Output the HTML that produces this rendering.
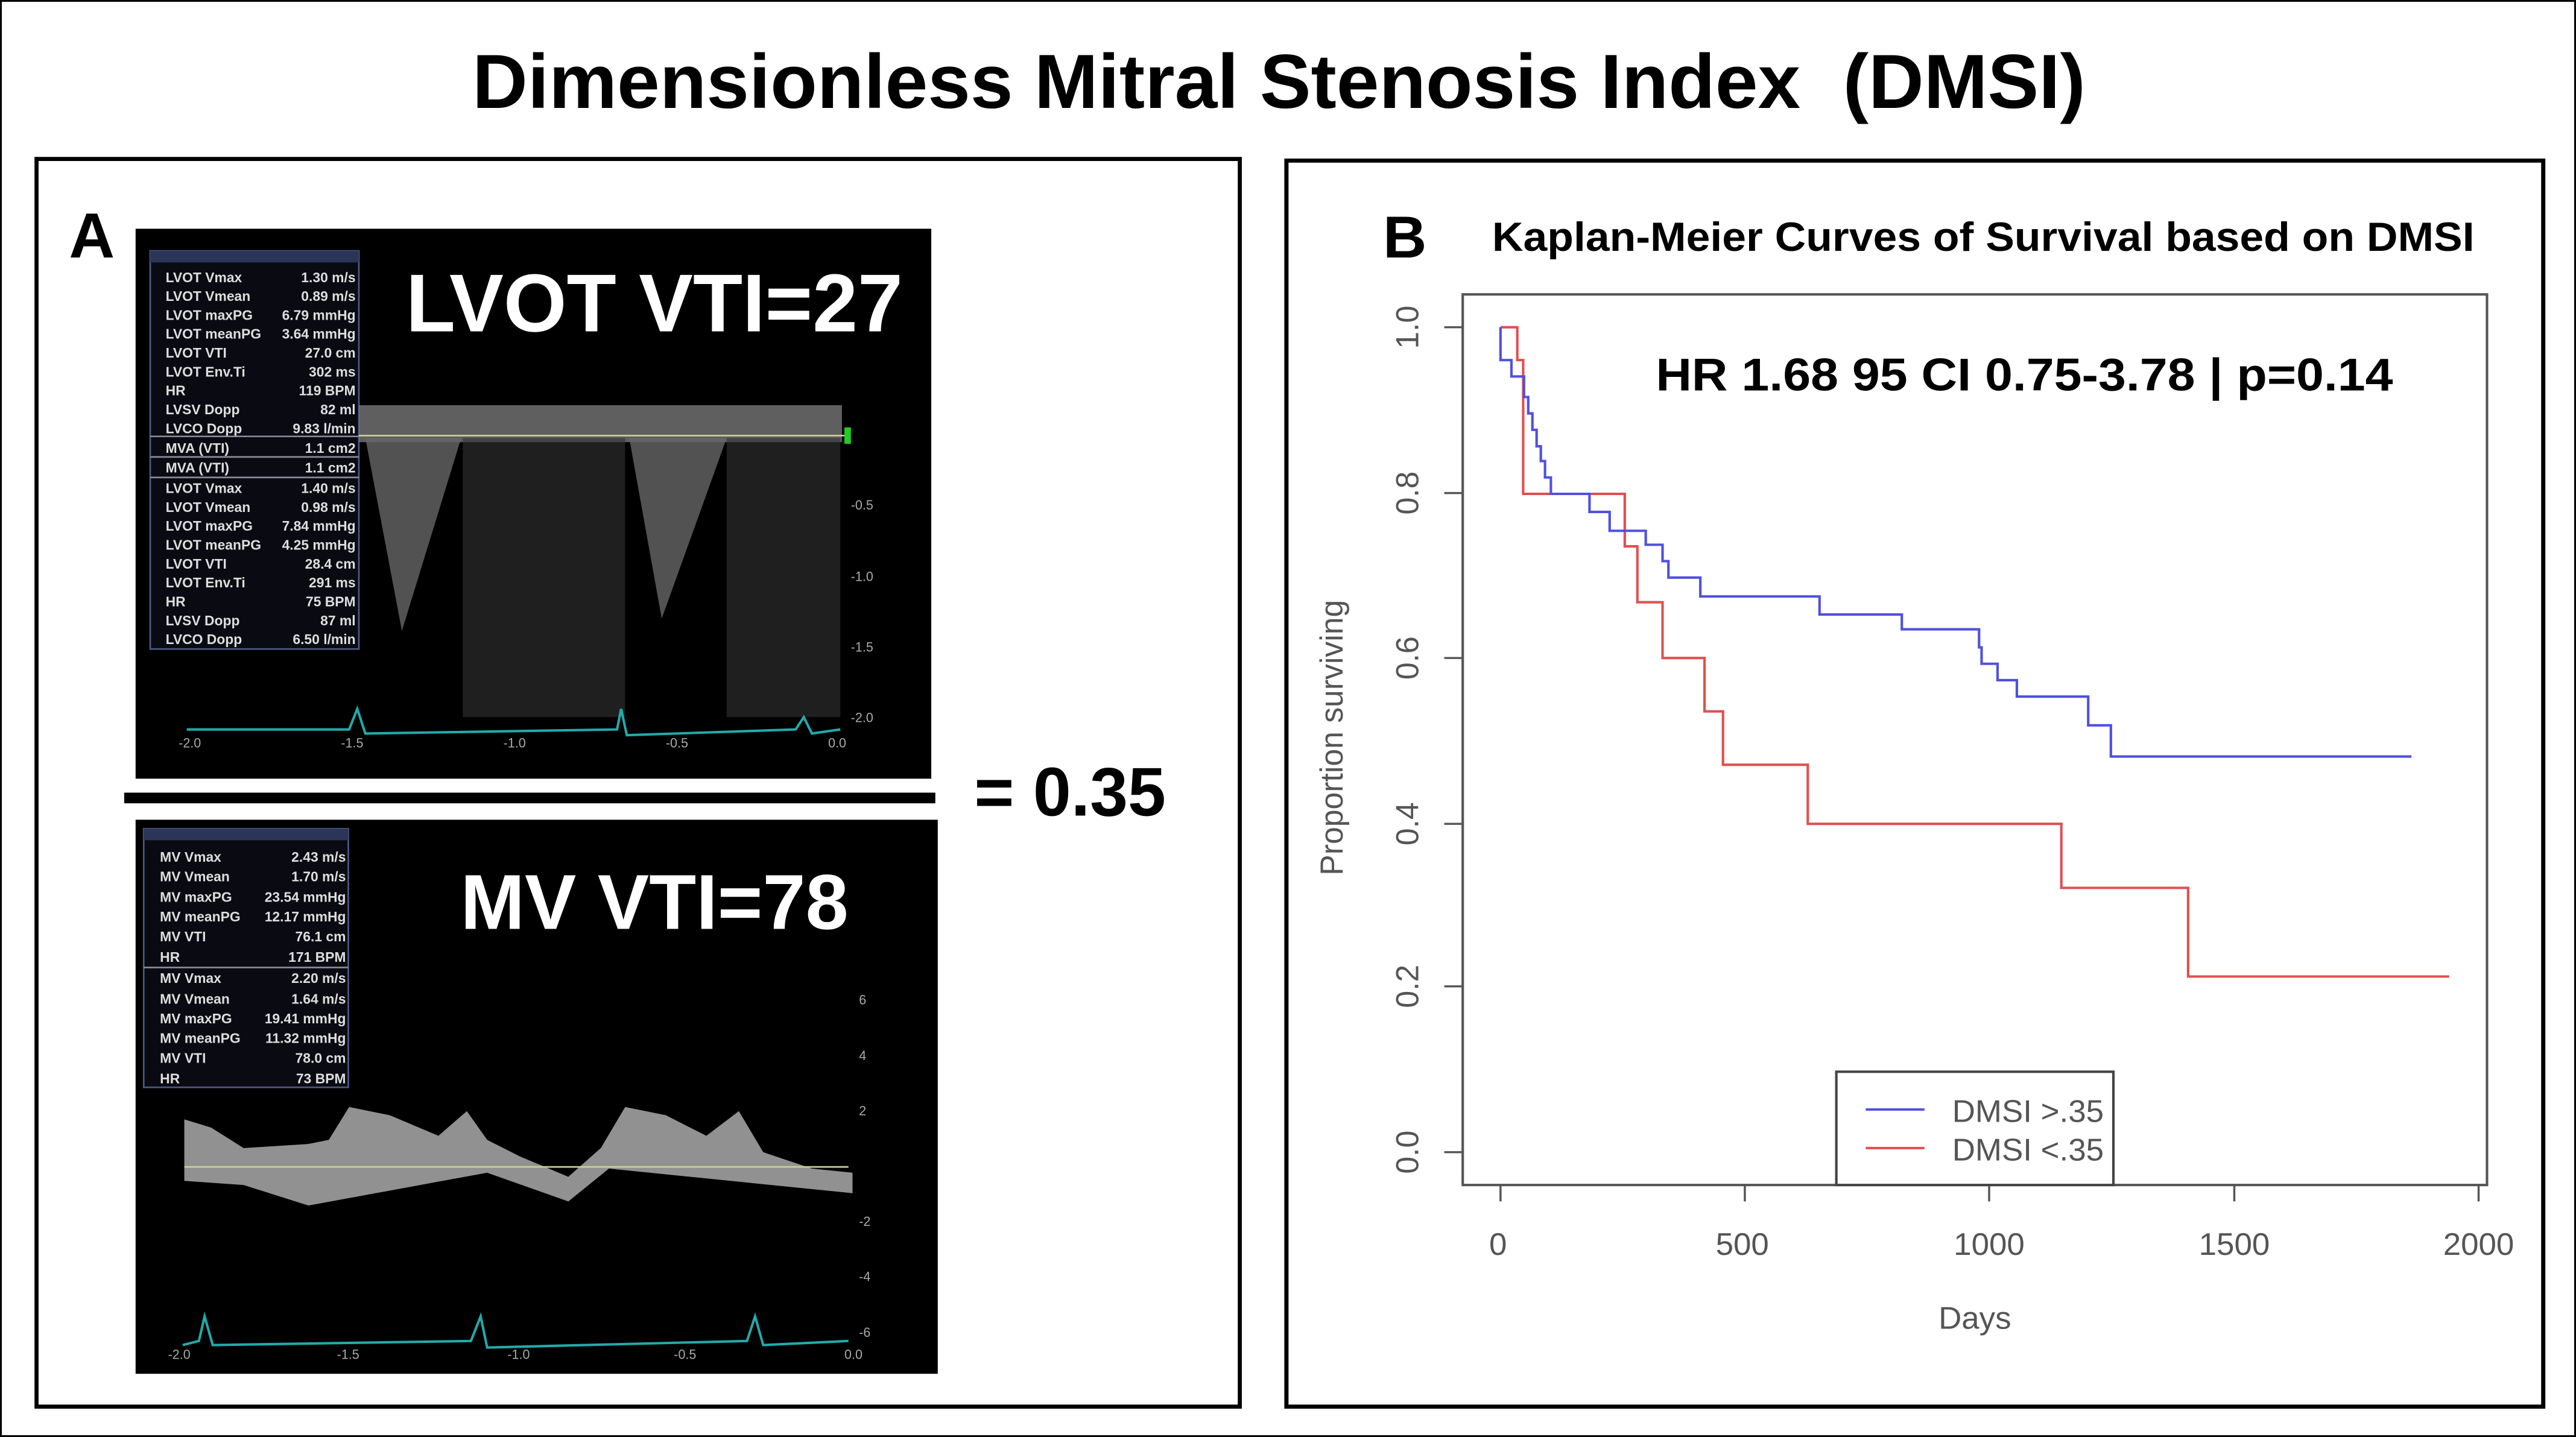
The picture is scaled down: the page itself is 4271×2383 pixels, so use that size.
<!DOCTYPE html>
<html><head><style>
html,body{margin:0;padding:0;background:#fff;}
body{width:4271px;height:2383px;position:relative;overflow:hidden;font-family:"Liberation Sans",sans-serif;}
.frame{position:absolute;left:0;top:0;width:4265px;height:2377px;border:3px solid #000;}
.title{position:absolute;left:-15px;width:4271px;top:55px;text-align:center;font-weight:bold;font-size:127px;line-height:160px;}
svg{position:absolute;}
</style></head><body>
<div class="frame"></div>
<div class="title">Dimensionless Mitral Stenosis Index&nbsp;&nbsp;(DMSI)</div>

<svg style="left:0;top:250px" width="2100" height="2133" viewBox="0 0 1560 1567" preserveAspectRatio="none" font-family="Liberation Sans, sans-serif">
<rect x="45" y="10" width="1482" height="1520" fill="none" stroke="#000" stroke-width="5"/>
<text x="85" y="130" font-size="78" font-weight="bold">A</text>
<rect x="167" y="95" width="980" height="670" fill="#000"/>
<rect x="185" y="122" width="257" height="485" fill="#0a0a12" stroke="#4a5a80" stroke-width="2"/>
<rect x="185" y="122" width="257" height="14" fill="#2a3558"/>
<g fill="#ddd" font-size="17" font-weight="bold">
<text x="204" y="160">LVOT Vmax</text><text x="438" y="160" text-anchor="end">1.30 m/s</text>
<text x="204" y="183">LVOT Vmean</text><text x="438" y="183" text-anchor="end">0.89 m/s</text>
<text x="204" y="206">LVOT maxPG</text><text x="438" y="206" text-anchor="end">6.79 mmHg</text>
<text x="204" y="229">LVOT meanPG</text><text x="438" y="229" text-anchor="end">3.64 mmHg</text>
<text x="204" y="252">LVOT VTI</text><text x="438" y="252" text-anchor="end">27.0 cm</text>
<text x="204" y="275">LVOT Env.Ti</text><text x="438" y="275" text-anchor="end">302 ms</text>
<text x="204" y="298">HR</text><text x="438" y="298" text-anchor="end">119 BPM</text>
<text x="204" y="321">LVSV Dopp</text><text x="438" y="321" text-anchor="end">82 ml</text>
<text x="204" y="344">LVCO Dopp</text><text x="438" y="344" text-anchor="end">9.83 l/min</text>
<text x="204" y="368">MVA (VTI)</text><text x="438" y="368" text-anchor="end">1.1 cm2</text>
<text x="204" y="392">MVA (VTI)</text><text x="438" y="392" text-anchor="end">1.1 cm2</text>
<text x="204" y="417">LVOT Vmax</text><text x="438" y="417" text-anchor="end">1.40 m/s</text>
<text x="204" y="440">LVOT Vmean</text><text x="438" y="440" text-anchor="end">0.98 m/s</text>
<text x="204" y="463">LVOT maxPG</text><text x="438" y="463" text-anchor="end">7.84 mmHg</text>
<text x="204" y="486">LVOT meanPG</text><text x="438" y="486" text-anchor="end">4.25 mmHg</text>
<text x="204" y="509">LVOT VTI</text><text x="438" y="509" text-anchor="end">28.4 cm</text>
<text x="204" y="532">LVOT Env.Ti</text><text x="438" y="532" text-anchor="end">291 ms</text>
<text x="204" y="555">HR</text><text x="438" y="555" text-anchor="end">75 BPM</text>
<text x="204" y="578">LVSV Dopp</text><text x="438" y="578" text-anchor="end">87 ml</text>
<text x="204" y="601">LVCO Dopp</text><text x="438" y="601" text-anchor="end">6.50 l/min</text>
</g>
<line x1="185" y1="348" x2="442" y2="348" stroke="#889" stroke-width="2"/>
<line x1="185" y1="373" x2="442" y2="373" stroke="#889" stroke-width="2"/>
<line x1="185" y1="398" x2="442" y2="398" stroke="#889" stroke-width="2"/>
<rect x="442" y="310" width="595" height="45" fill="#777" opacity="0.8"/>
<line x1="442" y1="347" x2="1040" y2="347" stroke="#cc9" stroke-width="2"/>
<path d="M450,350 L495,585 L568,350 Z" fill="#666" opacity="0.8"/>
<path d="M775,350 L815,570 L895,350 Z" fill="#666" opacity="0.8"/>
<rect x="570" y="350" width="200" height="340" fill="#333" opacity="0.6"/>
<rect x="895" y="350" width="140" height="340" fill="#333" opacity="0.6"/>
<path d="M230,705 L430,705 L440,680 L450,710 L760,705 L765,680 L772,712 L980,705 L990,690 L1000,710 L1035,705" fill="none" stroke="#2aa" stroke-width="3"/>
<g fill="#aaa" font-size="16"><text x="220" y="727">-2.0</text><text x="420" y="727">-1.5</text><text x="620" y="727">-1.0</text><text x="820" y="727">-0.5</text><text x="1020" y="727">0.0</text><text x="1048" y="437">-0.5</text><text x="1048" y="524">-1.0</text><text x="1048" y="610">-1.5</text><text x="1048" y="696">-2.0</text></g>
<rect x="1040" y="337" width="8" height="20" fill="#2c2"/>
<text x="1112" y="220" font-size="100" font-weight="bold" fill="#fff" text-anchor="end">LVOT VTI=27</text>
<rect x="153" y="782" width="999" height="13" fill="#000"/>
<text x="1200" y="810" font-size="84" font-weight="bold">= 0.35</text>
<rect x="167" y="815" width="988" height="675" fill="#000"/>
<rect x="177" y="826" width="252" height="315" fill="#0a0a12" stroke="#4a5a80" stroke-width="2"/>
<rect x="177" y="826" width="252" height="14" fill="#2a3558"/>
<g fill="#ddd" font-size="17" font-weight="bold">
<text x="197" y="866">MV Vmax</text><text x="426" y="866" text-anchor="end">2.43 m/s</text>
<text x="197" y="890">MV Vmean</text><text x="426" y="890" text-anchor="end">1.70 m/s</text>
<text x="197" y="915">MV maxPG</text><text x="426" y="915" text-anchor="end">23.54 mmHg</text>
<text x="197" y="939">MV meanPG</text><text x="426" y="939" text-anchor="end">12.17 mmHg</text>
<text x="197" y="963">MV VTI</text><text x="426" y="963" text-anchor="end">76.1 cm</text>
<text x="197" y="988">HR</text><text x="426" y="988" text-anchor="end">171 BPM</text>
<text x="197" y="1014">MV Vmax</text><text x="426" y="1014" text-anchor="end">2.20 m/s</text>
<text x="197" y="1039">MV Vmean</text><text x="426" y="1039" text-anchor="end">1.64 m/s</text>
<text x="197" y="1063">MV maxPG</text><text x="426" y="1063" text-anchor="end">19.41 mmHg</text>
<text x="197" y="1087">MV meanPG</text><text x="426" y="1087" text-anchor="end">11.32 mmHg</text>
<text x="197" y="1111">MV VTI</text><text x="426" y="1111" text-anchor="end">78.0 cm</text>
<text x="197" y="1136">HR</text><text x="426" y="1136" text-anchor="end">73 BPM</text>
</g>
<line x1="177" y1="995" x2="429" y2="995" stroke="#889" stroke-width="2"/>
<path d="M227,1180 L260,1190 L300,1215 L380,1210 L405,1205 L430,1165 L480,1175 L540,1200 L575,1170 L600,1205 L640,1225 L700,1250 L740,1215 L770,1165 L820,1175 L870,1200 L910,1170 L940,1220 L1000,1240 L1050,1245 L1050,1270 L900,1255 L750,1240 L700,1280 L600,1245 L380,1285 L300,1260 L227,1255 Z" fill="#aaa" opacity="0.85"/>
<line x1="227" y1="1238" x2="1045" y2="1238" stroke="#cc9" stroke-width="2"/>
<path d="M225,1455 L245,1450 L252,1420 L262,1455 L580,1450 L592,1420 L600,1458 L920,1450 L930,1420 L940,1455 L1045,1450" fill="none" stroke="#2aa" stroke-width="3"/>
<g fill="#aaa" font-size="16"><text x="207" y="1472">-2.0</text><text x="415" y="1472">-1.5</text><text x="625" y="1472">-1.0</text><text x="830" y="1472">-0.5</text><text x="1040" y="1472">0.0</text><text x="1058" y="1040">6</text><text x="1058" y="1108">4</text><text x="1058" y="1175">2</text><text x="1058" y="1310">-2</text><text x="1058" y="1377">-4</text><text x="1058" y="1445">-6</text></g>
<text x="1045" y="948" font-size="95" font-weight="bold" fill="#fff" text-anchor="end">MV VTI=78</text>
</svg>

<svg style="left:2112px;top:250px" width="2159" height="2133" viewBox="0 0 1551 1567" preserveAspectRatio="none" font-family="Liberation Sans, sans-serif">
<rect x="15" y="12" width="1497" height="1518" fill="none" stroke="#000" stroke-width="5"/>
<text x="130" y="130" font-size="72" font-weight="bold">B</text>
<text x="260" y="122" font-size="50" font-weight="bold" textLength="1170" lengthAdjust="spacingAndGlyphs">Kaplan-Meier Curves of Survival based on DMSI</text>
<rect x="225" y="175" width="1220" height="1085" fill="none" stroke="#555" stroke-width="3"/>
<text x="455" y="292" font-size="56" font-weight="bold" textLength="878" lengthAdjust="spacingAndGlyphs">HR 1.68 95 CI 0.75-3.78 | p=0.14</text>
<g stroke="#555" stroke-width="2.5">
<line x1="203" y1="215" x2="225" y2="215"/><line x1="203" y1="417" x2="225" y2="417"/><line x1="203" y1="618" x2="225" y2="618"/><line x1="203" y1="820" x2="225" y2="820"/><line x1="203" y1="1018" x2="225" y2="1018"/><line x1="203" y1="1220" x2="225" y2="1220"/>
<line x1="270" y1="1260" x2="270" y2="1280"/><line x1="561" y1="1260" x2="561" y2="1280"/><line x1="852" y1="1260" x2="852" y2="1280"/><line x1="1144" y1="1260" x2="1144" y2="1280"/><line x1="1435" y1="1260" x2="1435" y2="1280"/>
</g>
<g fill="#555" font-size="38" text-anchor="middle">
<text transform="translate(172,215) rotate(-90)">1.0</text>
<text transform="translate(172,417) rotate(-90)">0.8</text>
<text transform="translate(172,618) rotate(-90)">0.6</text>
<text transform="translate(172,820) rotate(-90)">0.4</text>
<text transform="translate(172,1018) rotate(-90)">0.2</text>
<text transform="translate(172,1220) rotate(-90)">0.0</text>
<text x="267" y="1345">0</text><text x="558" y="1345">500</text><text x="852" y="1345">1000</text><text x="1144" y="1345">1500</text><text x="1435" y="1345">2000</text>
<text x="835" y="1435">Days</text>
<text transform="translate(82,715) rotate(-90)">Proportion surviving</text>
</g>
<path d="M270,215 L290,215 L290,255 L297,255 L297,418 L418,418 L418,482 L433,482 L433,550 L463,550 L463,618 L513,618 L513,683 L535,683 L535,748 L636,748 L636,820 L938,820 L938,898 L1089,898 L1089,1006 L1400,1006" fill="none" stroke="#e05050" stroke-width="3"/>
<path d="M270,215 L270,255 L283,255 L283,275 L298,275 L298,300 L303,300 L303,320 L308,320 L308,340 L313,340 L313,360 L318,360 L318,378 L323,378 L323,398 L330,398 L330,418 L376,418 L376,440 L400,440 L400,463 L443,463 L443,480 L463,480 L463,500 L470,500 L470,520 L508,520 L508,543 L650,543 L650,565 L748,565 L748,583 L840,583 L840,605 L843,605 L843,625 L862,625 L862,645 L885,645 L885,665 L970,665 L970,700 L997,700 L997,738 L1355,738" fill="none" stroke="#5050e0" stroke-width="3"/>
<rect x="670" y="1122" width="330" height="138" fill="#fff" stroke="#444" stroke-width="3"/>
<line x1="705" y1="1168" x2="775" y2="1168" stroke="#5050e0" stroke-width="3"/>
<line x1="705" y1="1215" x2="775" y2="1215" stroke="#e05050" stroke-width="3"/>
<g fill="#555" font-size="38"><text x="808" y="1183">DMSI &gt;.35</text><text x="808" y="1230">DMSI &lt;.35</text></g>
</svg>
</body></html>
